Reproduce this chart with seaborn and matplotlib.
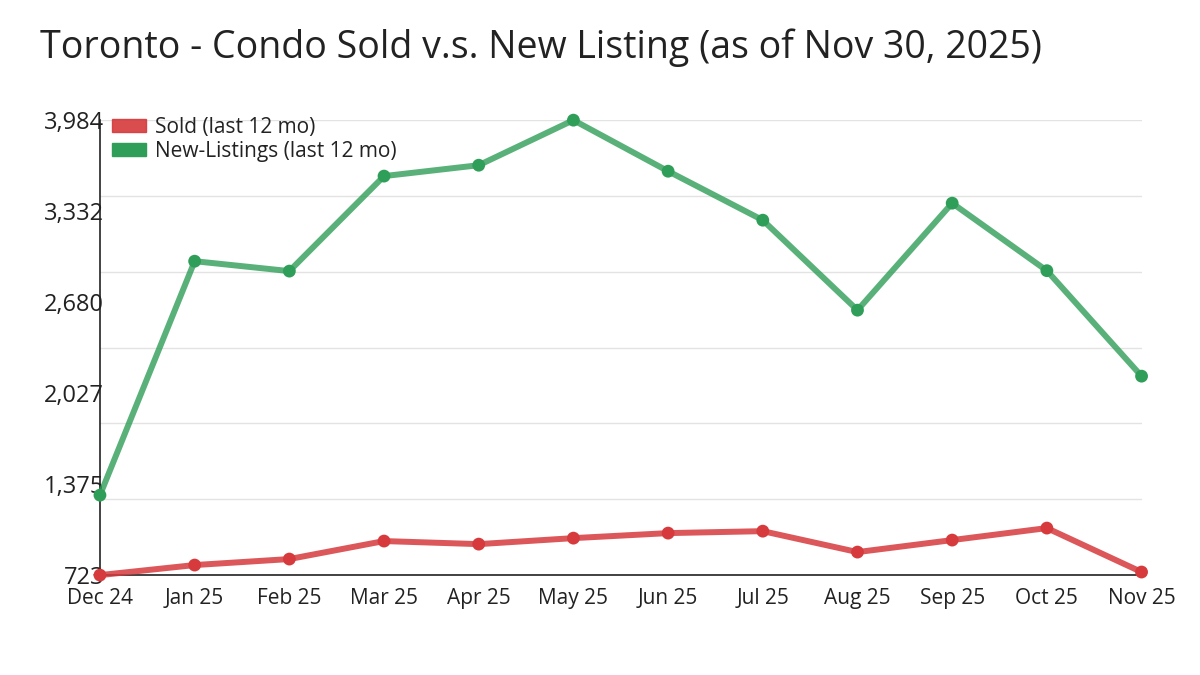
import numpy as np
import pandas as pd
import matplotlib.pyplot as plt
import seaborn as sns
from matplotlib.patches import Patch
from matplotlib.ticker import FixedLocator

# ── Data ─────────────────────────────────────────────────────────────────────
months = ["Dec 24", "Jan 25", "Feb 25", "Mar 25", "Apr 25", "May 25",
          "Jun 25", "Jul 25", "Aug 25", "Sep 25", "Oct 25", "Nov 25"]
sold = [723, 795, 838, 967, 945, 988, 1024, 1038, 888, 974, 1060, 745]
new_listings = [1296, 2973, 2902, 3583, 3661, 3984, 3618, 3267, 2622, 3389, 2905, 2149]
ytick_labels = [723, 1375, 2027, 2680, 3332, 3984]

SOLD_LABEL = "Sold (last 12 mo)"
NEW_LABEL = "New-Listings (last 12 mo)"
RED = "#d63a3c"
GREEN = "#2f9e58"

df = pd.DataFrame({
    "pos": list(range(len(months))) * 2,
    "value": sold + new_listings,
    "series": [SOLD_LABEL] * len(months) + [NEW_LABEL] * len(months),
})

sns.set_style("white")
plt.rcParams["font.family"] = ["Open Sans", "DejaVu Sans"]

fig = plt.figure(figsize=(12, 6.75), dpi=100)
ax = fig.add_axes([0.0833, 0.148, 0.8680, 0.674])

ymin, ymax = min(sold), max(new_listings)

# gridlines at 6 equal steps (minor), labels at 5 (major)
grid_vals = np.linspace(ymin, ymax, 7)
ax.yaxis.remove_overlapping_locs = False
ax.yaxis.set_minor_locator(FixedLocator(grid_vals))
ax.grid(True, which="minor", axis="y", color="#e3e3e3", linewidth=1)
ax.grid(False, which="major")

palette = {SOLD_LABEL: RED, NEW_LABEL: GREEN}
for name, lw_alpha in [(NEW_LABEL, 0.8), (SOLD_LABEL, 0.85)]:
    sub = df[df["series"] == name]
    sns.lineplot(data=sub, x="pos", y="value", color=palette[name],
                 linewidth=4.3, alpha=lw_alpha, ax=ax, legend=False,
                 clip_on=False, zorder=3)
    sns.scatterplot(data=sub, x="pos", y="value", color=palette[name],
                    s=85, edgecolor="none", ax=ax, legend=False,
                    clip_on=False, zorder=4)

ax.set_xlim(0, len(months) - 1)
ax.set_ylim(ymin, ymax)
ax.set_xticks(range(len(months)))
ax.set_xticklabels(months, fontsize=15, color="#222222")
ax.set_yticks(ytick_labels)
ax.set_yticklabels([f"{v:,}" for v in ytick_labels], fontsize=17, color="#222222")
ax.tick_params(axis="x", which="major", length=5, width=1, color="#222222", pad=4)
ax.tick_params(axis="y", which="both", length=0, pad=-3)
ax.set_xlabel("")
ax.set_ylabel("")

for side in ["top", "right"]:
    ax.spines[side].set_visible(False)
for side in ["left", "bottom"]:
    ax.spines[side].set_color("#222222")
    ax.spines[side].set_linewidth(1.2)

handles = [Patch(color=RED, alpha=0.9, label=SOLD_LABEL),
           Patch(color=GREEN, label=NEW_LABEL)]
ax.legend(handles=handles, loc="upper left", bbox_to_anchor=(0.0, 1.035),
          frameon=False, fontsize=15, handlelength=1.6, handleheight=0.55,
          handletextpad=0.45, labelspacing=0.15, borderaxespad=0.2,
          labelcolor="#222222")

fig.text(0.033, 0.93, "Toronto - Condo Sold v.s. New Listing (as of Nov 30, 2025)",
         fontsize=27, color="#222222", va="center", ha="left")

plt.savefig("out.png", dpi=100)
plt.close()
